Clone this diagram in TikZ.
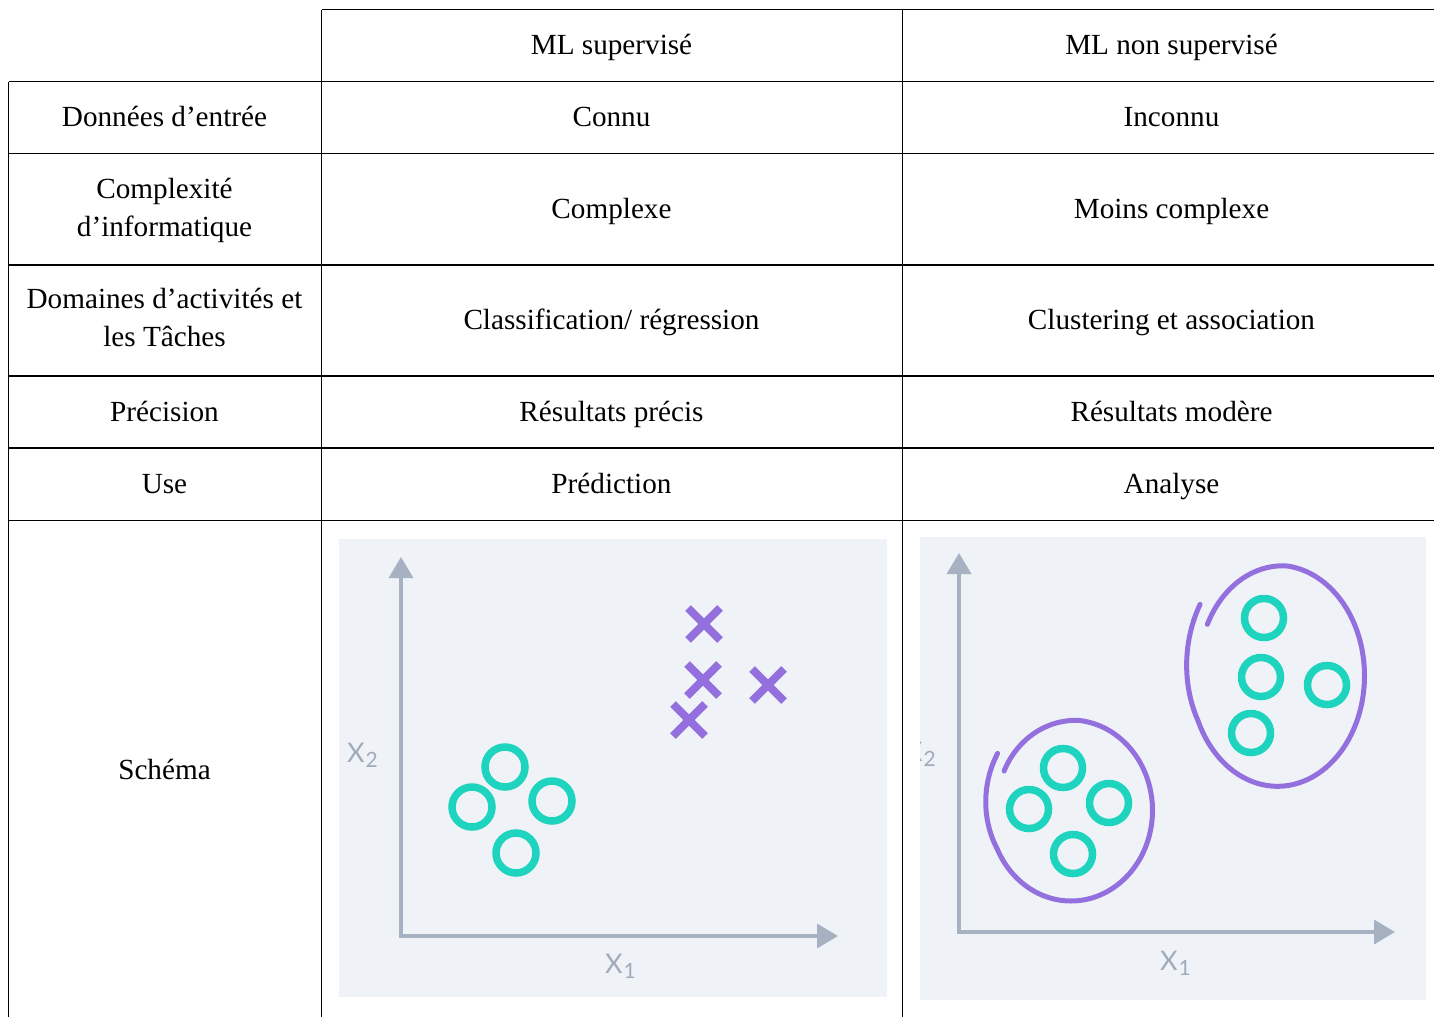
\documentclass[tikz,border=0pt]{standalone}
\usepackage{fontspec}
\setmainfont{Liberation Serif}
\newfontfamily\axfont{Lato}
\usetikzlibrary{arrows.meta}

\definecolor{panelbg}{RGB}{239,243,248}
\definecolor{axisgray}{RGB}{166,178,194}
\definecolor{labelgray}{RGB}{160,171,186}
\definecolor{tealring}{RGB}{30,212,190}
\definecolor{violet}{RGB}{148,112,222}

\tikzset{
  grid/.style={line width=1.3pt, black},
  cell/.style={font=\fontsize{29.2}{38.4}\selectfont, anchor=base, inner sep=0pt, align=center},
  panel/.style={fill=panelbg, draw=none},
  axes/.style={line width=3.6pt, draw=axisgray, line join=miter,
    {Triangle[length=21pt,width=24pt,fill=axisgray]}-{Triangle[length=21pt,width=24pt,fill=axisgray]}},
  axlabel/.style={font=\axfont\fontsize{27}{27}\selectfont, text=labelgray, inner sep=0pt, anchor=base west},
  ring/.style={draw=tealring, line width=7.5pt},
  crossline/.style={draw=violet, line width=8pt},
  loopline/.style={draw=violet, line width=5pt, line cap=round},
  xmark/.pic={\draw[crossline] (-16,-16) -- (16,16) (-16,16) -- (16,-16);},
  declare function={spir(\t,\s)=1+0.1*max(0,1-(\t-\s)/60)-0.07*max(0,(\t-\s-300)/67);}
}
\newcommand{\axtext}[1]{X\kern1pt\raisebox{-5pt}{\fontsize{21}{21}\selectfont #1}}

\begin{document}
\begin{tikzpicture}[x=1pt,y=-1pt]
\useasboundingbox (0,0) rectangle (1434,1017);

% table rules
\draw[grid] (321.5,9.5) -- (1434,9.5);
\foreach \yy in {81.5,153.5,265,376,448,520.5}
  \draw[grid] (8.5,\yy) -- (1434,\yy);
\draw[grid] (8.5,81.5) -- (8.5,1017);
\draw[grid] (321.5,9.5) -- (321.5,1017);
\draw[grid] (902.5,9.5) -- (902.5,1017);

% header
\node[cell] (h1) at (611.5,54) {ML supervisé};
\node[cell] (h2) at (1171.5,54) {ML non supervisé};

% row labels (base anchor of a two-line cell sits on its last line)
\node[cell] (r1) at (164.5,126) {Données d’entrée};
\node[cell] (r2) at (164.5,236.7) {Complexité\\d’informatique};
\node[cell] (r3) at (164.5,346.7) {Domaines d’activités et\\les Tâches};
\node[cell] (r4) at (164.5,421) {Précision};
\node[cell] (r5) at (164.5,493) {Use};
\node[cell] (r6) at (164.5,779) {Schéma};

% supervised column
\node[cell] (s1) at (611.5,126) {Connu};
\node[cell] (s2) at (611.5,218) {Complexe};
\node[cell] (s3) at (611.5,329) {Classification/ régression};
\node[cell] (s4) at (611.5,421) {Résultats précis};
\node[cell] (s5) at (611.5,493) {Prédiction};

% unsupervised column
\node[cell] (u1) at (1171.5,126) {Inconnu};
\node[cell] (u2) at (1171.5,218) {Moins complexe};
\node[cell] (u3) at (1171.5,329) {Clustering et association};
\node[cell] (u4) at (1171.5,421) {Résultats modère};
\node[cell] (u5) at (1171.5,493) {Analyse};

% supervised scatter plot
\fill[panel] (339,539) rectangle (887,997);
\coordinate (sy) at (401,557);
\coordinate (so) at (401,936);
\coordinate (sx) at (838,936);
\draw[axes] (sy) -- (so) -- (sx);
\node[axlabel] (sx2) at (347,762) {\axtext{2}};
\node[axlabel] (sx1) at (605,973) {\axtext{1}};
\foreach \cx/\cy in {505/767, 472/807, 552/801, 516/853}
  \draw[ring] (\cx,\cy) circle[radius=20];
\foreach \cx/\cy in {704/624, 703/680, 768/685, 689/720}
  \pic at (\cx,\cy) {xmark};

% unsupervised scatter plot
\fill[panel] (920,537) rectangle (1426,1000);
\begin{scope}
  \clip (920,537) rectangle (1426,1000);
  \node[axlabel] (ux2) at (905,761) {\axtext{2}};
\end{scope}
\coordinate (uy) at (959,553);
\coordinate (uo) at (959,932);
\coordinate (ux) at (1395,932);
\draw[axes] (uy) -- (uo) -- (ux);
\node[axlabel] (ux1) at (1160,970) {\axtext{1}};
\foreach \cx/\cy in {1063/768, 1029/809, 1109/803, 1073/854,
                     1264/618, 1261/677, 1327/685, 1251/733}
  \draw[ring] (\cx,\cy) circle[radius=19.5];
\draw[loopline] plot[domain=145:512, samples=160, smooth]
  ({1071+81.5*spir(\x,145)*cos(\x)}, {810.5-90.5*spir(\x,145)*sin(\x)});
\draw[loopline] plot[domain=144:510, samples=160, smooth]
  ({1277.5+87*spir(\x,144)*cos(\x)}, {675.8-110.5*spir(\x,144)*sin(\x)});
\end{tikzpicture}
\end{document}
